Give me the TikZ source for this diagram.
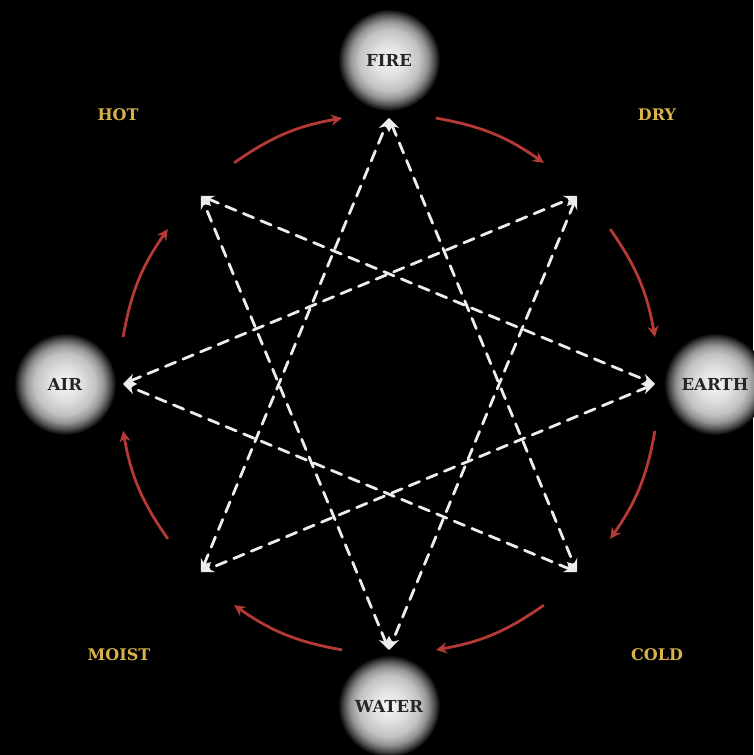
\documentclass[tikz,border=0pt]{standalone}
\usepackage{fontspec}
\setmainfont{DejaVu Serif}
\usetikzlibrary{arrows.meta,calc}
\pgfdeclareradialshading{glow}{\pgfpointorigin}{color(0bp)=(white!96!black); color(8bp)=(white!88!black); color(15bp)=(white!76!black); color(19bp)=(white!58!black); color(22bp)=(white!32!black); color(24.5bp)=(white!6!black); color(25bp)=(black); color(50bp)=(black)}
\definecolor{goldlbl}{HTML}{D8B24A}
\definecolor{redarr}{HTML}{B53A36}
\definecolor{dashw}{HTML}{EDEDED}
\tikzset{
  elem/.style={circle, minimum size=102pt, inner sep=0pt, shading=glow, text=black!85,
    font=\fontsize{16.5}{18}\selectfont\bfseries},
  qual/.style={text=goldlbl, font=\fontsize{16}{18}\selectfont\bfseries},
  starline/.style={dashw, line width=2.8pt, dash pattern=on 11pt off 8pt, line cap=round,
    {Stealth[length=13pt,width=11pt]}-{Stealth[length=13pt,width=11pt]}},
  cycarrow/.style={redarr, line width=2.8pt, -{Stealth[length=11pt,width=11pt]}}
}
\begin{document}
\begin{tikzpicture}[x=1pt,y=1pt]
\fill[black] (0,0) rectangle (753,755);
\useasboundingbox (0,0) rectangle (753,755);
\coordinate (C) at (389,371);
% elements
\node[elem] (fire)  at (389,695) {FIRE};
\node[elem] (earth) at (715,371) {EARTH};
\node[elem] (water) at (389,49)  {WATER};
\node[elem] (air)   at (65,371)  {AIR};
% qualities
\node[qual] (hot)   at (118,640) {HOT};
\node[qual] (dry)   at (657,640) {DRY};
\node[qual] (moist) at (119,100) {MOIST};
\node[qual] (cold)  at (657,100) {COLD};
% star vertices
\foreach \k in {0,...,7}{
  \coordinate (v\k) at ($(C)+({90-45*\k}:266)$);
}
\foreach \k in {0,...,7}{
  \pgfmathtruncatemacro{\j}{mod(\k+3,8)}
  \draw[starline] (v\k) -- (v\j);
}
% cycle arrows
\foreach \k in {0,...,7}{
  \coordinate (s\k) at ($(C)+({112.5-45*\k+12.5}:270)$);
  \coordinate (e\k) at ($(C)+({112.5-45*\k-12.5}:270)$);
  \draw[cycarrow] (s\k) to[bend left=12.5] (e\k);
}
\end{tikzpicture}
\end{document}
